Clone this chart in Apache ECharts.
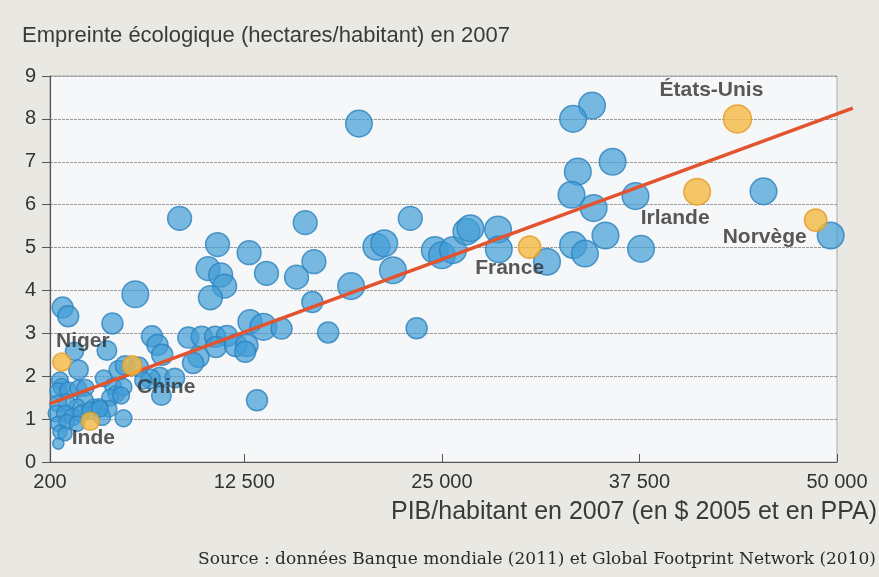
<!DOCTYPE html>
<html>
<head>
<meta charset="utf-8">
<script src="https://cdn.jsdelivr.net/npm/echarts@6/dist/echarts.min.js"></script>
<style>
  html, body { margin: 0; padding: 0; background: #e9e8e3; }
  #chart { width: 879px; height: 577px; }
</style>
</head>
<body>
<div id="chart"></div>
<script>
// [PIB/habitant, empreinte, poids relatif de la bulle]
const autresPays = [
  [34500, 8.31, 0.95], [33300, 8.0, 0.95], [35800, 7.0, 0.95], [33600, 6.77, 0.95],
  [33200, 6.23, 0.95], [34600, 5.92, 0.95], [37250, 6.2, 0.95], [45350, 6.31, 0.95],
  [49600, 5.28, 0.95], [35350, 5.28, 0.95], [33300, 5.06, 0.95], [34050, 4.86, 0.95],
  [37600, 4.97, 0.95], [31650, 4.67, 0.95],
  [19750, 7.89, 0.95], [16350, 5.58, 0.85], [23000, 5.68, 0.85], [20850, 5.02, 0.95],
  [21350, 5.1, 0.95], [16900, 4.67, 0.85], [15800, 4.31, 0.85], [16800, 3.73, 0.75],
  [21900, 4.47, 0.95], [19250, 4.1, 0.95], [17800, 3.02, 0.75], [23400, 3.12, 0.75],
  [24550, 4.94, 0.95], [25000, 4.82, 0.95], [25700, 4.94, 0.95], [26550, 5.37, 0.95],
  [26800, 5.45, 0.95], [28550, 5.42, 0.95], [28600, 4.96, 0.95],
  [8400, 5.68, 0.85], [10800, 5.07, 0.85], [12800, 4.88, 0.85], [10200, 4.51, 0.85],
  [11000, 4.36, 0.85], [11250, 4.1, 0.85], [10350, 3.83, 0.85], [13900, 4.4, 0.85],
  [12850, 3.27, 0.85], [13700, 3.15, 0.95], [14850, 3.11, 0.75], [8950, 2.9, 0.75],
  [9800, 2.92, 0.75], [10650, 2.92, 0.75], [11400, 2.94, 0.75], [10700, 2.68, 0.75],
  [11950, 2.72, 0.8], [12650, 2.72, 0.8], [12550, 2.57, 0.75], [9600, 2.45, 0.75],
  [9250, 2.31, 0.75], [6650, 2.93, 0.75], [7000, 2.73, 0.75], [7300, 2.5, 0.75],
  [13300, 1.44, 0.75], [7150, 1.98, 0.7], [8100, 1.96, 0.7], [7250, 1.55, 0.7],
  [6550, 1.94, 0.7],
  [5600, 3.91, 0.95], [1000, 3.6, 0.75], [1350, 3.4, 0.75], [4150, 3.23, 0.75],
  [1750, 2.58, 0.65], [3800, 2.6, 0.7], [2000, 2.15, 0.7], [4550, 2.14, 0.7],
  [4950, 2.25, 0.7], [5800, 2.22, 0.7], [3600, 1.95, 0.6], [4850, 1.02, 0.6],
  [725, 0.43, 0.4], [830, 1.9, 0.6], [940, 1.75, 0.6], [725, 1.65, 0.6],
  [1350, 1.67, 0.6], [2000, 1.71, 0.6], [2450, 1.73, 0.6], [4200, 1.76, 0.6],
  [4400, 1.59, 0.6], [4850, 1.75, 0.6], [4000, 1.5, 0.6], [4700, 1.55, 0.6],
  [3900, 1.24, 0.6], [3300, 1.28, 0.6], [2950, 1.27, 0.6], [3500, 1.05, 0.6],
  [2400, 1.44, 0.6], [1900, 1.28, 0.6], [1250, 1.4, 0.6], [725, 1.36, 0.6],
  [620, 1.13, 0.6], [1150, 1.13, 0.6], [1650, 1.05, 0.6], [2200, 1.13, 0.6],
  [725, 0.89, 0.55], [1250, 0.93, 0.55], [830, 0.7, 0.5], [1150, 0.66, 0.5],
  [1900, 0.89, 0.55], [2750, 1.2, 0.6], [3350, 1.24, 0.6], [6100, 1.9, 0.6]
];

const paysNommes = ['États-Unis', 'Irlande', 'Norvège', 'France', 'Chine', 'Niger', 'Inde'];
const paysNommesValeurs = [
  [43700, 8.0, 1.0], [41150, 6.3, 0.95], [48650, 5.64, 0.8], [30550, 5.01, 0.8],
  [5400, 2.25, 0.7], [950, 2.33, 0.65], [2750, 0.95, 0.65]
];
const decalagesEtiquettes = [[-26, -29], [-22, 26], [-51, 17], [-20, 21], [34, 22], [21, -21], [3, 17]];

const droiteTendance = [[200, 1.36], [51000, 8.25]];
const ticksX = [200, 12500, 25000, 37500, 50000];

const fmt = v => String(v).replace(/\B(?=(\d{3})+(?!\d))/g, ' ');
const sans = "'Liberation Sans', Arial, sans-serif";

const chart = echarts.init(document.getElementById('chart'));
chart.setOption({
  animation: false,
  backgroundColor: '#e9e8e3',
  title: [
    {
      text: 'Empreinte écologique (hectares/habitant) en 2007',
      left: 22, top: 25, padding: 0,
      textStyle: { fontFamily: sans, fontSize: 22, fontWeight: 'normal', color: '#3a3a3a' }
    },
    {
      text: 'PIB/habitant en 2007 (en $ 2005 et en PPA)',
      right: 2, top: 500, padding: 0,
      textStyle: { fontFamily: sans, fontSize: 25, fontWeight: 'normal', color: '#3a3a3a' }
    },
    {
      text: 'Source : données Banque mondiale (2011) et Global Footprint Network (2010)',
      left: 198, top: 551, padding: 0,
      textStyle: { fontFamily: "'DejaVu Serif', 'Liberation Serif', serif", fontSize: 17, fontWeight: 'normal', color: '#2a2a2a' }
    }
  ],
  grid: [
    {
      left: 50, right: 42, top: 76, bottom: 115,
      show: true, backgroundColor: '#f6f7f8', borderColor: '#a9a9a9', borderWidth: 1
    },
    // grille invisible un peu plus large, même échelle, pour que la droite dépasse à droite
    { left: 50, right: 26, top: 76, bottom: 115 }
  ],
  xAxis: [
    {
      type: 'value', min: 200, max: 50000,
      axisLine: { onZero: false, lineStyle: { color: '#555', width: 1.2 } },
      axisTick: { inside: true, length: 8, customValues: ticksX, lineStyle: { color: '#555' } },
      axisLabel: {
        customValues: ticksX, formatter: v => fmt(v), margin: 10,
        fontFamily: sans, fontSize: 20, color: '#333'
      },
      splitLine: { show: false }
    },
    {
      type: 'value', gridIndex: 1, min: 200, max: 200 + 803 * 49800 / 787,
      show: false, splitLine: { show: false }
    }
  ],
  yAxis: [
    {
      type: 'value', min: 0, max: 9, interval: 1,
      axisLine: { show: true, lineStyle: { color: '#555', width: 1.2 } },
      axisTick: { show: true, length: 8, lineStyle: { color: '#555' } },
      axisLabel: { margin: 14, fontFamily: sans, fontSize: 20, color: '#333' },
      splitLine: { lineStyle: { color: '#9a9a9a', width: 1, type: [3, 1] } }
    },
    {
      type: 'value', gridIndex: 1, min: 0, max: 9,
      show: false, splitLine: { show: false }
    }
  ],
  series: [
    {
      type: 'scatter', z: 2,
      data: autresPays,
      symbolSize: d => 28 * d[2],
      itemStyle: { color: 'rgba(66, 157, 214, 0.88)', borderColor: '#2a82bf', borderWidth: 1.5 }
    },
    {
      type: 'line', z: 3, xAxisIndex: 1, yAxisIndex: 1, showSymbol: false, silent: true,
      data: droiteTendance,
      lineStyle: { color: '#e2532e', width: 3.5 }
    },
    {
      type: 'scatter', z: 4,
      data: paysNommesValeurs.map((v, i) => ({
        value: v, name: paysNommes[i],
        label: {
          show: true, formatter: paysNommes[i], position: 'inside',
          offset: decalagesEtiquettes[i],
          fontFamily: sans, fontWeight: 'bold', fontSize: 21, color: '#2e2e2e'
        }
      })),
      symbolSize: d => 28 * d[2],
      itemStyle: { color: '#f4b942', borderColor: '#e39a22', borderWidth: 1.5 }
    }
  ]
});
</script>
</body>
</html>
